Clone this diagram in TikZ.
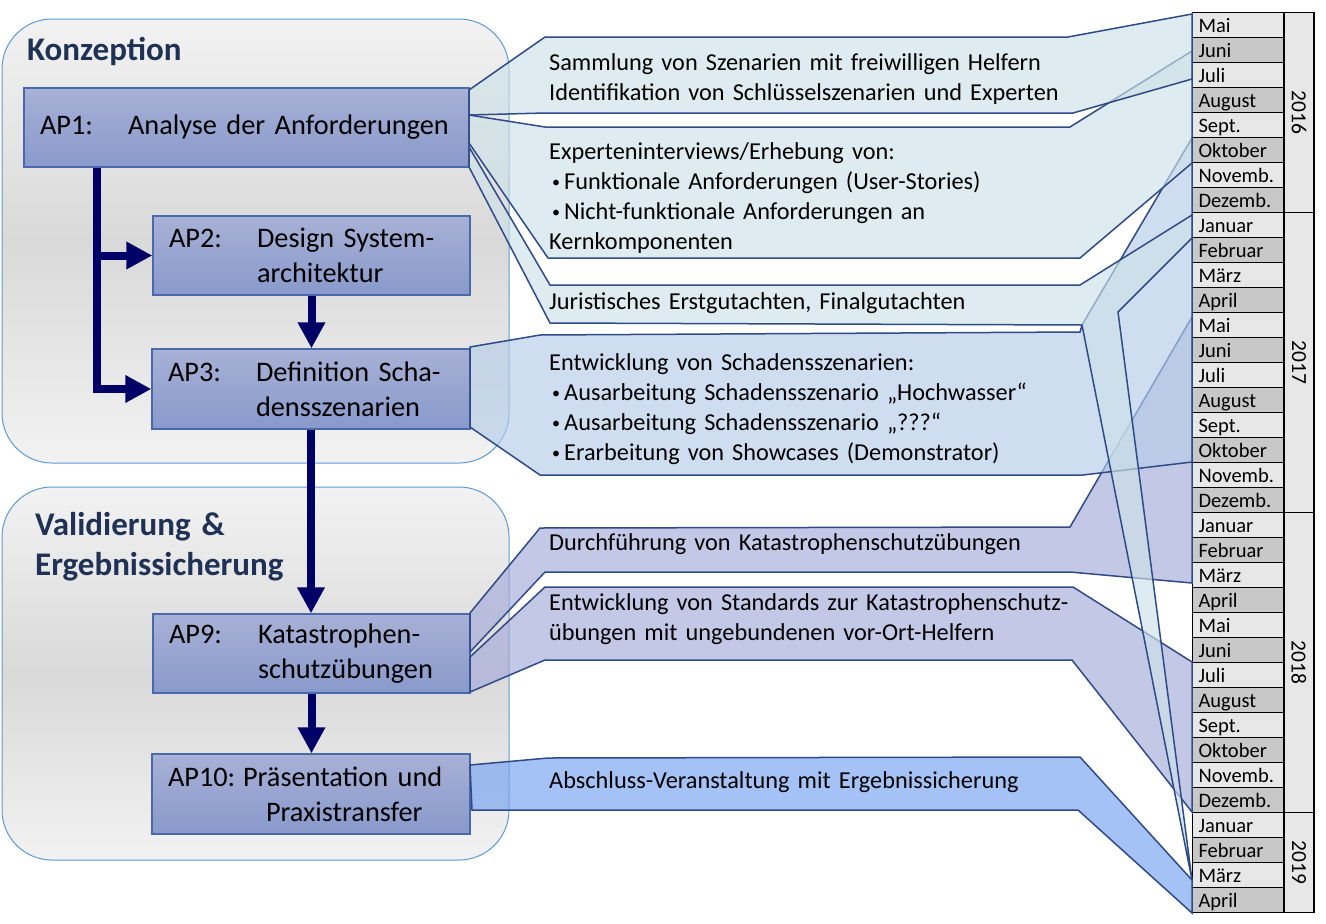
\documentclass[tikz,border=0pt]{standalone}
\usepackage{fontspec}
\setmainfont{Carlito}[WordSpace=0.75]
\usetikzlibrary{arrows.meta}
\definecolor{titleC}{RGB}{31,50,86}
\definecolor{apTop}{RGB}{168,177,214}
\definecolor{apBot}{RGB}{136,153,203}
\definecolor{apLine}{RGB}{74,104,172}
\definecolor{arrC}{RGB}{0,0,102}
\definecolor{contLine}{RGB}{91,155,213}
\definecolor{contA}{RGB}{242,242,242}
\definecolor{contB}{RGB}{217,217,217}
\definecolor{edgeC}{RGB}{47,75,135}
\definecolor{cTeal}{RGB}{205,225,232}
\definecolor{cBlue}{RGB}{180,205,232}
\definecolor{cPurp}{RGB}{165,170,218}
\definecolor{cSky}{RGB}{115,161,240}
\definecolor{calL}{RGB}{231,231,231}
\definecolor{calD}{RGB}{200,200,200}
\newcommand\cbul{\makebox[15pt][l]{\hspace{3pt}\raisebox{1.5pt}{\fontsize{16}{16}\selectfont•}}}
\begin{document}
\begin{tikzpicture}[x=1pt,y=-1pt,
  container/.style={draw=contLine, line width=1pt, rounded corners=50pt,
    top color=contA, bottom color=contA, middle color=contB, inner sep=0pt},
  titletext/.style={anchor=base west, inner sep=0pt, text=titleC,
    font=\fontsize{33}{40}\selectfont\bfseries},
  apbox/.style={draw=apLine, line width=1.3pt, top color=apTop, bottom color=apBot,
    inner xsep=16pt, inner ysep=0pt, align=left,
    font=\fontsize{28.3}{35}\selectfont},
  arr/.style={draw=arrC, line width=8pt, -{Triangle[length=26pt,width=26pt]}},
  callout/.style={draw=edgeC, line width=1.5pt, fill opacity=0.65, line join=miter},
  ctext/.style={anchor=base west, inner sep=0pt, text width=640pt, align=left,
    font=\fontsize{24.3}{30}\selectfont},
  monthcell/.style={draw=black, line width=1.4pt, minimum height=25pt,
    text width=79.5pt, inner xsep=6pt, inner ysep=0pt, align=left,
    text height=15pt, text depth=1pt, font=\fontsize{20.5}{22}\selectfont},
  yearcell/.style={draw=black, line width=1.4pt, fill=calL, rotate=-90,
    minimum height=30pt, inner sep=0pt, font=\fontsize{21.5}{24}\selectfont}
]
\useasboundingbox (0,0) rectangle (1326,924);

% containers
\node[container, minimum width=507pt, minimum height=444pt] (konz) at (255.5,241) {};
\node[container, minimum width=507pt, minimum height=373pt] (vali) at (255.5,673.5) {};
\node[titletext] (tk) at (27,60) {Konzeption};
\node[titletext, text width=320pt, align=left] (tv) at (35,535.7) {Validierung \&\\Ergebnissicherung};

% work packages
\node[apbox, text width=413pt, minimum height=79pt] (AP1) at (246.5,127.5)
  {\mbox{\makebox[88pt][l]{AP1:}Analyse der Anforderungen}};
\node[apbox, text width=285pt, minimum height=79pt] (AP2) at (311.5,255.5)
  {\mbox{\makebox[88pt][l]{AP2:}Design System-}\\\mbox{\hspace*{88pt}architektur}};
\node[apbox, text width=286pt, minimum height=80pt] (AP3) at (311,389)
  {\mbox{\makebox[88pt][l]{AP3:}Definition Scha-}\\\mbox{\hspace*{88pt}densszenarien}};
\node[apbox, text width=285pt, minimum height=79pt] (AP9) at (311.5,653.5)
  {\mbox{\makebox[89pt][l]{AP9:}Katastrophen-}\\\mbox{\hspace*{89pt}schutzübungen}};
\node[apbox, text width=286pt, minimum height=80pt] (AP10) at (311,794)
  {\mbox{\makebox[75pt][l]{AP10:}Präsentation und}\\\mbox{\hspace*{98pt}Praxistransfer}};

% arrows
\coordinate (trunk) at ([xshift=74pt]AP1.south west);
\draw[arr] (trunk) |- (AP3.west);
\draw[arr] (trunk |- AP2.west) -- (AP2.west);
\draw[arr] (AP2.south) -- (AP2.south |- AP3.north);
\draw[arr] (AP3.south) -- (AP3.south |- AP9.north);
\draw[arr] (AP9.south) -- (AP9.south |- AP10.north);

% calendar
\foreach \nm [count=\i from 0] in {Mai,Juni,Juli,August,Sept.,Oktober,Novemb.,Dezemb.,%
  Januar,Februar,März,April,Mai,Juni,Juli,August,Sept.,Oktober,Novemb.,Dezemb.,%
  Januar,Februar,März,April,Mai,Juni,Juli,August,Sept.,Oktober,Novemb.,Dezemb.,%
  Januar,Februar,März,April}{
  \ifodd\i \def\cc{calD}\else \def\cc{calL}\fi
  \node[monthcell, fill=\cc] (m\i) at (1238.25,25+25*\i) {\nm};
}
\node[yearcell, minimum width=200pt] (y2016) at (1299,112.5) {2016};
\node[yearcell, minimum width=300pt] (y2017) at (1299,362.5) {2017};
\node[yearcell, minimum width=300pt] (y2018) at (1299,662.5) {2018};
\node[yearcell, minimum width=100pt] (y2019) at (1299,862.5) {2019};

% callouts (lower ones first)
\filldraw[callout, fill=cSky] (470,765) -- (548,758) -- (1080,757) -- (1192,880)
  -- (1192,913) -- (1078,810) -- (472,810) -- cycle;
\filldraw[callout, fill=cPurp] (470,657) -- (545,587) -- (1073,587) -- (1192,662)
  -- (1192,812) -- (1072,660) -- (545,660) -- (470,692) -- cycle;
\filldraw[callout, fill=cPurp] (470,613) -- (540,528) -- (1070,527) -- (1192,317)
  -- (1192,583) -- (1070,572) -- (545,572) -- (470,652) -- cycle;
\filldraw[callout, fill=cBlue] (470,347) -- (540,335) -- (1080,332) -- (1082,325)
  -- (1192,138) -- (1192,462) -- (1083,475) -- (540,475) -- (470,427) -- cycle;
\filldraw[callout, fill=cTeal] (469,147) -- (550,285) -- (1080,285) -- (1192,215)
  -- (1192,238) -- (1118,312) -- (1192,880) -- (1082,325) -- (550,323) -- (469,167) -- cycle;
\filldraw[callout, fill=cTeal] (469,115) -- (545,127) -- (1070,127) -- (1192,51)
  -- (1192,163) -- (1080,258) -- (548,258) -- (469,143) -- cycle;
\filldraw[callout, fill=cTeal] (469,90) -- (545,37) -- (1068,37) -- (1192,14)
  -- (1192,79) -- (1073,113) -- (545,113) -- (469,115) -- cycle;

% callout texts
\node[ctext] (c1) at (549,70) {Sammlung von Szenarien mit freiwilligen Helfern\\Identifikation von Schlüsselszenarien und Experten};
\node[ctext] (c2) at (549,159.3) {Experteninterviews/Erhebung von:\\\cbul Funktionale Anforderungen (User-Stories)\\\cbul Nicht-funktionale Anforderungen an\\Kernkomponenten};
\node[ctext] (c3) at (549,309.3) {Juristisches Erstgutachten, Finalgutachten};
\node[ctext] (c4) at (549,370) {Entwicklung von Schadensszenarien:\\\cbul Ausarbeitung Schadensszenario „Hochwasser“\\\cbul Ausarbeitung Schadensszenario „???“\\\cbul Erarbeitung von Showcases (Demonstrator)};
\node[ctext] (c5) at (549,550) {Durchführung von Katastrophenschutzübungen};
\node[ctext] (c6) at (549,610) {Entwicklung von Standards zur Katastrophenschutz-\\übungen mit ungebundenen vor-Ort-Helfern};
\node[ctext] (c7) at (549,788.3) {Abschluss-Veranstaltung mit Ergebnissicherung};
\end{tikzpicture}
\end{document}
